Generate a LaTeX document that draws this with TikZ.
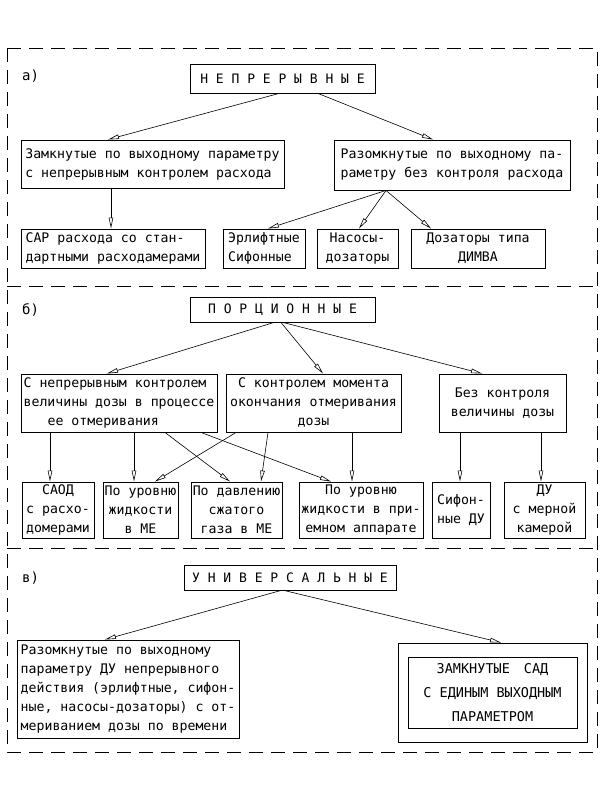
\documentclass[tikz,border=0pt]{standalone}
\usepackage{fontspec}
\newfontfamily\cad{DejaVu Sans Mono}
\usetikzlibrary{arrows.meta}
\tikzset{
  box/.style={draw, line width=0.9pt, inner sep=0pt, font=\cad\fontsize{13.2}{19}\selectfont},
  title/.style={box, font=\cad\fontsize{13}{19}\selectfont},
  lbl/.style={anchor=west, inner sep=0pt, font=\cad\fontsize{14}{19}\selectfont},
  arr/.style={-{Triangle[open,length=11pt,width=4.5pt]}, line width=0.6pt},
  frame/.style={line width=0.7pt, dash pattern=on 14pt off 8pt}
}
\begin{document}
\begin{tikzpicture}[x=1pt,y=-1pt]
\useasboundingbox (0,0) rectangle (600,800);
% frames
\draw[frame] (7,48) rectangle (597,752);
\draw[frame] (7,286) -- (597,286);
\draw[frame] (7,548) -- (597,548);

% ---------- a)
\node[lbl] (la) at (22,76) {а)};
\node[title, minimum width=185pt, minimum height=29pt] (ta) at (282.5,78.5) {Н Е П Р Е Р Ы В Н Ы Е};
\node[box, minimum width=263pt, minimum height=48pt, align=left] (a1) at (152.5,164) {Замкнутые по выходному параметру\\с непрерывным контролем расхода};
\node[box, minimum width=236pt, minimum height=50pt, align=left] (a2) at (452,165) {Разомкнутые по выходному па-\\раметру без контроля расхода};
\node[box, minimum width=184pt, minimum height=39pt, align=left] (a3) at (113,248.5) {САР расхода со стан-\\дартными расходамерами};
\node[box, minimum width=82pt, minimum height=39pt, align=left] (a4) at (264,248.5) {Эрлифтные\\Сифонные};
\node[box, minimum width=81pt, minimum height=39pt, align=center] (a5) at (357.5,248.5) {Насосы-\\дозаторы};
\node[box, minimum width=134pt, minimum height=39pt, align=center] (a6) at (478,248.5) {Дозаторы типа\\ДИМВА};

\draw[arr] ([xshift=-3.5pt]ta.south) -- ([xshift=-44.5pt]a1.north);
\draw[arr] ([xshift=35.5pt]ta.south) -- ([xshift=-19pt]a2.north);
\draw[arr] ([xshift=-41.5pt]a1.south) -- ([xshift=-2pt]a3.north);
\draw[arr] ([xshift=-66pt]a2.south) -- ([xshift=4pt]a4.north);
\draw[arr] ([xshift=-66pt]a2.south) -- ([xshift=1.5pt]a5.north);
\draw[arr] ([xshift=-66pt]a2.south) -- ([xshift=-47pt]a6.north);

% ---------- б)
\node[lbl] (lb) at (22,310) {б)};
\node[title, minimum width=185pt, minimum height=25pt] (tb) at (282.5,309.5) {П О Р Ц И О Н Н Ы Е};
\node[box, minimum width=196pt, minimum height=58pt, align=left] (b1) at (119,403) {С непрерывным контролем\\величины дозы в процессе\\\hspace*{24pt}ее отмеривания};
\node[box, minimum width=175pt, minimum height=58pt, align=center] (b2) at (313.5,403) {С контролем момента\\окончания отмеривания\\дозы};
\node[box, minimum width=127pt, minimum height=58pt, align=center] (b3) at (502.5,403) {Без контроля\\величины дозы};

\node[box, minimum width=72pt, minimum height=56pt, align=center] (r1) at (58,510) {САОД\\с расхо-\\домерами};
\node[box, minimum width=75pt, minimum height=56pt, align=center] (r2) at (140.5,510) {По уровню\\жидкости\\в МЕ};
\node[box, minimum width=91pt, minimum height=56pt, align=center] (r3) at (236.5,510) {По давлению\\сжатого\\газа в МЕ};
\node[box, minimum width=124pt, minimum height=56pt, align=center] (r4) at (361,510) {По уровню\\жидкости в при-\\емном аппарате};
\node[box, minimum width=58pt, minimum height=56pt, align=left] (r5) at (461,510) {Сифон-\\ные ДУ};
\node[box, minimum width=81pt, minimum height=56pt, align=center] (r6) at (544.5,510) {ДУ\\с мерной\\камерой};

\draw[arr] ([xshift=-8.5pt]tb.south) -- ([xshift=-12pt]b1.north);
\draw[arr] ([xshift=-1.5pt]tb.south) -- ([xshift=9.5pt]b2.north);
\draw[arr] ([xshift=0.5pt]tb.south) -- ([xshift=-20.5pt]b3.north);

\draw[arr] ([xshift=-69pt]b1.south) -- ([xshift=-8pt]r1.north);
\draw[arr] ([xshift=15pt]b1.south) -- ([xshift=-6.5pt]r2.north);
\draw[arr] ([xshift=46pt]b1.south) -- ([xshift=-6.5pt]r3.north);
\draw[arr] ([xshift=82pt]b1.south) -- ([xshift=-30pt]r4.north);
\draw[arr] ([xshift=-77.5pt]b2.south) -- ([xshift=14.5pt]r2.north);
\draw[arr] ([xshift=-45.5pt]b2.south) -- ([xshift=24.5pt]r3.north);
\draw[arr] ([xshift=38.5pt]b2.south) -- ([xshift=-9pt]r4.north);
\draw[arr] ([xshift=-42.5pt]b3.south) -- ([xshift=-1pt]r5.north);
\draw[arr] ([xshift=38.5pt]b3.south) -- ([xshift=-3.5pt]r6.north);

% ---------- в)
\node[lbl] (lc) at (22,578) {в)};
\node[title, minimum width=212pt, minimum height=25pt] (tc) at (290,577.5) {У Н И В Е Р С А Л Ь Н Ы Е};
\node[box, minimum width=222pt, minimum height=98pt, align=left] (c1) at (128,689) {Разомкнутые по выходному\\параметру ДУ непрерывного\\действия (эрлифтные, сифон-\\ные, насосы-дозаторы) с от-\\мериванием дозы по времени};
\node[box, minimum width=189pt, minimum height=99pt] (c2) at (492.5,692.5) {};
\node[box, minimum width=169pt, minimum height=71pt, align=center, font=\cad\fontsize{13.5}{24}\selectfont] (c2i) at (492.5,692.5) {ЗАМКНУТЫЕ\hspace{14pt}САД\\С ЕДИНЫМ ВЫХОДНЫМ\\ПАРАМЕТРОМ};

\draw[arr] ([xshift=-9pt]tc.south) -- ([xshift=-23pt]c1.north);
\draw[arr] ([xshift=-6pt]tc.south) -- ([xshift=8.5pt]c2.north);
\end{tikzpicture}
\end{document}
